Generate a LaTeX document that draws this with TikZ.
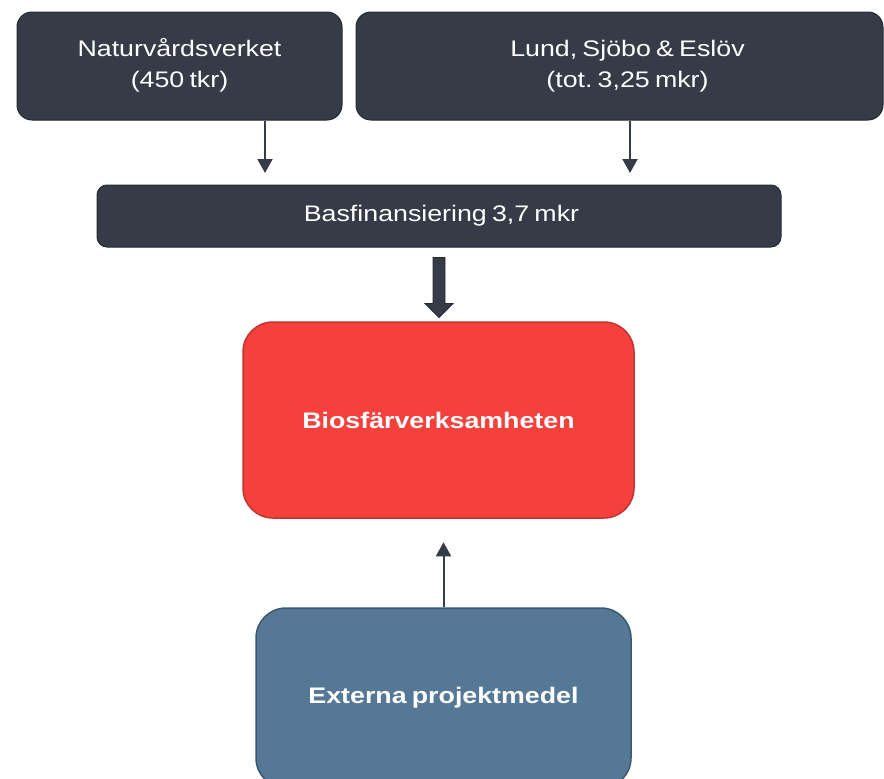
\documentclass[tikz,border=0pt]{standalone}
\usepackage{fontspec}
\setmainfont{Liberation Sans}[FakeStretch=1.19,WordSpace=0.7]
\usetikzlibrary{arrows.meta,calc}
\definecolor{darkfill}{HTML}{353B47}
\definecolor{darkline}{HTML}{252A32}
\definecolor{redfill}{HTML}{F5403C}
\definecolor{redline}{HTML}{C0332F}
\definecolor{bluefill}{HTML}{547896}
\definecolor{blueline}{HTML}{3C5870}
\frenchspacing
\begin{document}
\begin{tikzpicture}[x=1pt,y=-1pt,
  darkbox/.style={draw=darkline, fill=darkfill, line width=1pt, rounded corners=15pt,
    text=white, font=\fontsize{22.5}{31}\selectfont, inner sep=0pt},
  bigbox/.style={line width=1.5pt, rounded corners=30pt, text=white,
    font=\fontsize{22.5}{31}\selectfont\bfseries, inner sep=0pt},
  thinarrow/.style={draw=darkfill, line width=2pt, -{Triangle[width=15pt,length=14pt]}},
  blockarrow/.style={draw=darkline, fill=darkfill, line width=0.8pt}]
\useasboundingbox (0,0) rectangle (884,779);
\clip (0,0) rectangle (884,779);
\node[darkbox, minimum width=325pt, minimum height=108pt] (nv) at (179.5,66)
  {\raisebox{-1.6pt}{\begin{tabular}{@{}c@{}}Naturvårdsverket\\(450 tkr)\end{tabular}}};
\node[darkbox, minimum width=527pt, minimum height=108pt] (lse) at (619.5,66)
  {\hspace*{16pt}\raisebox{-1.6pt}{\begin{tabular}{@{}c@{}}Lund, Sjöbo \& Eslöv\\(tot. 3,25 mkr)\end{tabular}}};
\node[darkbox, rounded corners=10pt, minimum width=684pt, minimum height=62pt] (bas) at (439,216)
  {\hspace*{5pt}Basfinansiering 3,7 mkr};
\node[bigbox, draw=redline, fill=redfill, minimum width=391pt, minimum height=196pt] (bio) at (438.5,420)
  {Biosfärverksamheten};
\node[bigbox, draw=blueline, fill=bluefill, minimum width=375pt, minimum height=180pt] (ext) at (443.5,698)
  {Externa projektmedel};
\coordinate (t1) at (265,173);
\coordinate (t2) at (630,173);
\draw[thinarrow] (t1 |- nv.south) -- (t1);
\draw[thinarrow] (t2 |- lse.south) -- (t2);
\draw[blockarrow] ($(bas.south)+(-6,10)$) -- ++(12,0) -- ++(0,46) -- ++(8,0)
  -- ($(bas.south)+(0,70)$) -- ++(-14,-14) -- ++(8,0) -- cycle;
\draw[thinarrow] (ext.north) -- ++(0,-65);
\end{tikzpicture}
\end{document}
